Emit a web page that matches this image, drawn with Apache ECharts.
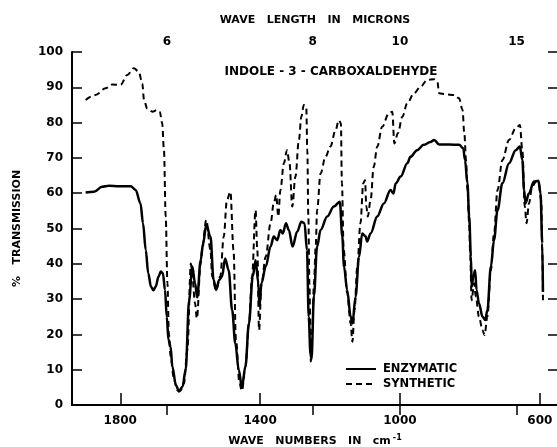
<!DOCTYPE html>
<html>
<head>
<meta charset="utf-8">
<script src="https://cdn.jsdelivr.net/npm/echarts@6/dist/echarts.min.js"></script>
<style>
html, body { margin: 0; padding: 0; background: #fff; }
#chart { width: 557px; height: 447px; }
</style>
</head>
<body>
<div id="chart"></div>
<script>
// 波数 (cm-1) 与透过率 (%)
var enzWn = [1899,1875,1852,1832,1804,1770,1756,1742,1735,1727,1720,1712,1705,1699,1690,1684,1678,1672,1667,1662,1656,1651,1641,1632,1622,1613,1603,1594,1586,1580,1570,1563,1554,1542,1533,1526,1517,1509,1500,1490,1480,1471,1461,1452,1442,1432,1421,1413,1405,1402,1396,1384,1370,1361,1351,1342,1335,1326,1318,1307,1294,1282,1273,1266,1261,1256,1253,1246,1237,1227,1208,1189,1172,1165,1160,1151,1141,1136,1127,1117,1108,1098,1094,1084,1065,1046,1027,1019,1012,998,979,970,951,932,913,902,888,859,831,819,814,807,802,797,795,790,785,781,774,764,756,750,740,731,721,707,688,669,657,650,645,641,631,617,604,598,593,591];
var enzT = [60.2,60.4,61.8,62.1,62.0,62.0,60.9,57.1,51.5,43.9,37.3,33.5,32.5,33.5,36.5,37.8,37.3,32.6,25,18.4,16.5,10.9,5.7,3.8,5.2,9.9,29.7,39.2,34.5,30.5,41,45.8,51,47.7,35.4,32.6,35.4,36.4,41.5,38.2,26.9,17.5,9.9,5,10.9,23.1,36.4,41,34.5,27.9,34.5,39.2,44.9,47.7,46.7,49.6,48.6,51.5,49.6,44.9,49.1,51.9,51.5,43.9,25,14.5,13,31,44.9,49.6,53.4,56.2,57.6,47.7,39.2,32.6,25,23.1,30.7,42,48.6,47.7,46.3,48.6,53.4,57.1,60.9,59.9,62.8,64.7,68.5,70.3,72.2,73.7,74.5,75.1,73.8,73.8,73.7,72.7,69.4,62.8,53.4,42,33.5,36.4,38.2,32.6,28.8,25,24.1,26.9,39.2,46.7,55.2,62.8,68.5,72.2,73.2,69.4,60.9,57.1,60,63.3,63.5,60,45.8,32];

var synWn = [1899,1871,1842,1823,1799,1780,1761,1747,1737,1732,1723,1708,1694,1687,1680,1675,1670,1665,1661,1656,1646,1637,1627,1618,1608,1598,1594,1586,1581,1570,1566,1554,1542,1537,1526,1514,1504,1495,1485,1476,1469,1459,1452,1442,1432,1423,1413,1408,1403,1396,1384,1370,1361,1354,1348,1342,1332,1323,1316,1308,1299,1289,1282,1275,1268,1265,1262,1259,1255,1251,1246,1241,1237,1227,1213,1199,1184,1175,1169,1166,1161,1151,1141,1136,1130,1122,1113,1105,1100,1096,1092,1084,1075,1065,1051,1032,1022,1016,1006,993,979,960,941,922,902,893,888,869,845,831,821,816,811,807,802,799,795,788,783,774,764,758,750,740,731,721,707,688,669,657,650,643,638,631,622,610,603,596,593,591];
var synT = [86.4,87.8,89.7,90.8,90.7,93.5,95.4,94.4,91.1,86.4,84,83.1,83.6,83.1,79.8,72.2,53.4,34.5,20.3,13.7,7.1,4.2,4.2,6.1,15.6,40.1,36.4,28.8,24.5,40,43.9,52.4,44,36.4,32.6,36.4,47.7,58,60.4,43.9,18.4,6.1,4,10.9,23,36.4,55.2,43.9,21.2,34.5,42,51.5,57.1,59.5,53.4,60.9,68.5,72.2,68.5,56.2,64.7,75.1,81.7,85,84.5,72.2,53.4,34.5,12.3,20.3,34.5,44.9,55.2,65.6,70.3,73.2,77.9,80.7,79.8,62.8,43.9,31.7,23.1,17.9,26.9,39.2,51.5,62.8,63.7,56.2,53.4,58.1,67.5,73.2,78.8,82.6,83.1,74.1,77,81.7,85.5,88.3,90.2,92.1,92.3,91.6,88.3,88,87.8,86.9,83.6,77,69.4,60.9,51.5,42,29.7,34.5,30.7,25,21.2,19.8,25,38.2,48.6,60.9,69.4,75.1,78.4,79.3,72.2,56.2,51.5,57.1,61.9,63.3,62.8,58,43.9,29.7];

var bottomTicks = [1800, 1400, 1000, 600];
var micronTicks = [6, 8, 10, 15];

function zip(xs, ys) {
	var out = [];
	for (var i = 0; i < xs.length; i++) out.push([xs[i], ys[i]]);
	return out;
}

var FONT = 'DejaVu Sans';
var labelStyle = { color: '#000', fontFamily: FONT, fontWeight: 'bold', fontSize: 12 };
var nameStyle = { color: '#000', fontFamily: FONT, fontWeight: 'bold', fontSize: 11 };
var micronPos = micronTicks.map(function (m) { return 10000 / m; });

var chart = echarts.init(document.getElementById('chart'));
chart.setOption({
	backgroundColor: '#fff',
	animation: false,
	grid: { left: 72, right: -1, top: 52, bottom: 42, outerBoundsMode: 'none' },
	graphic: [{
		type: 'text',
		x: 331, y: 72,
		style: {
			text: 'INDOLE - 3 - CARBOXALDEHYDE',
			fill: '#000',
			font: 'bold 12px ' + FONT,
			textAlign: 'center',
			textVerticalAlign: 'middle'
		}
	}],
	legend: {
		data: ['ENZYMATIC', 'SYNTHETIC'],
		orient: 'vertical',
		left: 340,
		top: 358,
		itemWidth: 30,
		itemHeight: 4,
		itemGap: 3,
		itemStyle: { opacity: 0 },
		textStyle: { color: '#000', fontFamily: FONT, fontWeight: 'bold', fontSize: 11.5, padding: [0, 0, 0, 2] }
	},
	xAxis: [{
		type: 'value',
		position: 'bottom',
		min: 548, max: 1938,
		inverse: true,
		axisLine: { lineStyle: { color: '#000', width: 2 } },
		axisTick: { inside: true, length: 12, customValues: bottomTicks, lineStyle: { color: '#000', width: 1.5 } },
		axisLabel: { customValues: bottomTicks, margin: 10, formatter: function (v) { return String(v); }, ...labelStyle },
		splitLine: { show: false },
		name: 'WAVE   NUMBERS   IN   {n|cm}{s|-1}',
		nameLocation: 'middle',
		nameGap: 29,
		nameTextStyle: {
			...nameStyle,
			rich: {
				n: { fontFamily: FONT, fontWeight: 'bold', fontSize: 11, color: '#000' },
				s: { fontFamily: FONT, fontWeight: 'bold', fontSize: 8, color: '#000', verticalAlign: 'top', padding: [0, 0, 6, 2] }
			}
		}
	}, {
		type: 'value',
		position: 'top',
		min: 548, max: 1938,
		inverse: true,
		axisLine: { lineStyle: { color: '#000', width: 2 } },
		axisTick: { inside: true, length: 10, customValues: micronPos, lineStyle: { color: '#000', width: 1.5 } },
		axisLabel: {
			customValues: micronPos,
			margin: 4,
			formatter: function (v) { return String(Math.round(10000 / v)); },
			...labelStyle
		},
		splitLine: { show: false },
		name: 'WAVE   LENGTH   IN   MICRONS',
		nameLocation: 'middle',
		nameGap: 26,
		nameTextStyle: nameStyle
	}],
	yAxis: [{
		type: 'value',
		position: 'left',
		min: 0, max: 100, interval: 10,
		axisLine: { lineStyle: { color: '#000', width: 2 } },
		axisTick: { inside: true, length: 10, lineStyle: { color: '#000', width: 1.5 } },
		axisLabel: { margin: 9, ...labelStyle },
		splitLine: { show: false },
		name: '%   TRANSMISSION',
		nameLocation: 'middle',
		nameGap: 49,
		nameRotate: 90,
		nameTextStyle: nameStyle
	}, {
		type: 'value',
		position: 'right',
		min: 0, max: 100, interval: 10,
		axisLine: { show: false },
		axisTick: { show: true, inside: true, length: 10, lineStyle: { color: '#000', width: 1.5 } },
		axisLabel: { show: false },
		splitLine: { show: false }
	}],
	series: [{
		name: 'ENZYMATIC',
		type: 'line',
		data: zip(enzWn, enzT),
		showSymbol: false,
		symbol: 'none',
		smooth: 0.35,
		smoothMonotone: 'x',
		lineStyle: { color: '#000', width: 2.5 },
		itemStyle: { color: '#000' }
	}, {
		name: 'SYNTHETIC',
		type: 'line',
		data: zip(synWn, synT),
		showSymbol: false,
		symbol: 'none',
		smooth: 0.35,
		smoothMonotone: 'x',
		lineStyle: { color: '#000', width: 2, type: [6, 4] },
		itemStyle: { color: '#000' }
	}]
});
</script>
</body>
</html>
